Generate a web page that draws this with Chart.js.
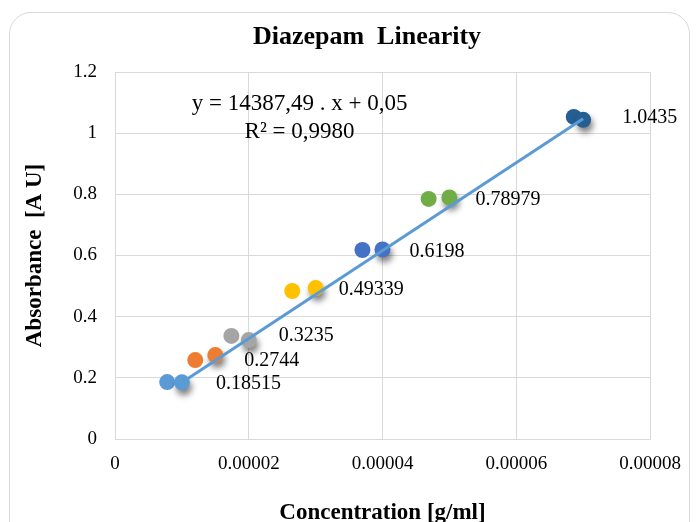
<!DOCTYPE html>
<html>
<head>
<meta charset="utf-8">
<script src="https://cdn.jsdelivr.net/npm/chart.js@4.4.1/dist/chart.umd.min.js"></script>
<style>
  html, body { margin: 0; padding: 0; background: #ffffff; }
  #wrap {
    position: relative; width: 697px; height: 522px; overflow: hidden;
  }
  #frame {
    position: absolute; left: 9px; top: 12px; width: 681px; height: 540px;
    border: 1px solid #d9d9d9; border-radius: 22px; box-sizing: border-box;
  }
  canvas { position: absolute; left: 0; top: 0; }
</style>
</head>
<body>
<div id="wrap">
  <div id="frame"></div>
  <canvas id="chart" width="697" height="522"></canvas>
</div>
<script>
// Series colours, low to high concentration
const seriesColors = ['#5B9BD5', '#ED7D31', '#A5A5A5', '#FFC000', '#4472C4', '#70AD47', '#255E91'];

// Measured points (x = concentration g/ml, y = absorbance)
const concX = [0.00001, 0.000015, 0.00002, 0.00003, 0.00004, 0.00005, 0.00007];
const absY = [0.18515, 0.2744, 0.3235, 0.49339, 0.6198, 0.78979, 1.0435];

// Companion (unshadowed) replicate points
const repX = [0.0000078, 0.000012, 0.0000174, 0.0000265, 0.000037, 0.0000469, 0.0000686];
const repY = [0.186, 0.258, 0.337, 0.484, 0.618, 0.785, 1.053];

// Data labels shown next to the measured points
const pointLabels = ['0.18515', '0.2744', '0.3235', '0.49339', '0.6198', '0.78979', '1.0435'];

// Trendline end points
const trendX = [0.00001, 0.00007];
const trendY = [0.185, 1.047];

const xTicks = [0, 0.00002, 0.00004, 0.00006, 0.00008];
const yTicks = [0, 0.2, 0.4, 0.6, 0.8, 1, 1.2];

const chartTitle = 'Diazepam  Linearity';
const equationLines = ['y = 14387,49 . x + 0,05', 'R² = 0,9980'];

// label nudges in px (dx, dy) from each measured point
const labelShift = [[34, 1], [29, 6], [30, -4], [23, 2], [27, 2], [26, 2], [39, -2]];

const SERIF = '"Liberation Serif", "Times New Roman", serif';

const datasets = [];

// trendline first so markers sit on top
datasets.push({
  type: 'line',
  label: 'trend',
  data: trendX.map((x, i) => ({ x, y: trendY[i] })),
  borderColor: '#5B9BD5',
  borderWidth: 3,
  pointRadius: 0,
  fill: false,
  order: 0,
});

seriesColors.forEach((c, i) => {
  datasets.push({
    label: 'rep' + i,
    data: [{ x: repX[i], y: repY[i] }],
    backgroundColor: c,
    borderColor: c,
    pointRadius: 8,
    pointBorderWidth: 0,
    order: 3,
  });
  datasets.push({
    label: 'meas' + i,
    data: [{ x: concX[i], y: absY[i] }],
    backgroundColor: c,
    borderColor: c,
    pointRadius: 8,
    pointBorderWidth: 0,
    shadow: true,
    labelIndex: i,
    order: 2,
  });
});

// Drop shadow for the measured markers
const shadowPlugin = {
  id: 'shadow',
  beforeDatasetDraw(chart, args) {
    const ds = chart.data.datasets[args.index];
    if (!ds.shadow) return;
    const ctx = chart.ctx;
    ctx.save();
    ctx.shadowColor = 'rgba(0,0,0,0.5)';
    ctx.shadowBlur = 6;
    ctx.shadowOffsetX = 2;
    ctx.shadowOffsetY = 5;
  },
  afterDatasetDraw(chart, args) {
    const ds = chart.data.datasets[args.index];
    if (!ds.shadow) return;
    chart.ctx.restore();
  },
};

// Title, data labels and trendline equation
const textPlugin = {
  id: 'texts',
  afterDatasetsDraw(chart) {
    const ctx = chart.ctx;
    ctx.save();
    ctx.fillStyle = '#000000';
    ctx.textBaseline = 'middle';

    ctx.font = 'bold 26px ' + SERIF;
    ctx.textAlign = 'center';
    ctx.fillText(chartTitle, 367, 37);

    ctx.font = '20px ' + SERIF;
    ctx.textAlign = 'left';
    chart.data.datasets.forEach((ds, di) => {
      if (ds.labelIndex === undefined) return;
      const pt = chart.getDatasetMeta(di).data[0];
      const s = labelShift[ds.labelIndex];
      ctx.fillText(pointLabels[ds.labelIndex], pt.x + s[0], pt.y + s[1]);
    });

    const xs = chart.scales.x;
    const ys = chart.scales.y;
    ctx.font = '23px ' + SERIF;
    ctx.textAlign = 'center';
    const ex = xs.getPixelForValue(0.0000276);
    const ey = ys.getPixelForValue(1.097);
    ctx.fillText(equationLines[0], ex, ey);
    ctx.fillText(equationLines[1], ex, ey + 28);
    ctx.restore();
  },
};

const gridColor = '#d9d9d9';

new Chart(document.getElementById('chart'), {
  type: 'scatter',
  data: { datasets },
  options: {
    responsive: false,
    animation: false,
    layout: { padding: { left: 17, right: 47, top: 72, bottom: 0 } },
    plugins: {
      legend: { display: false },
      tooltip: { enabled: false },
      title: { display: false },
    },
    scales: {
      x: {
        type: 'linear',
        min: 0,
        max: 0.00008,
        afterBuildTicks: (s) => { s.ticks = xTicks.map((v) => ({ value: v })); },
        afterFit: (s) => { s.height = 83; },
        grid: { color: gridColor, lineWidth: 1, drawTicks: false },
        border: { color: gridColor },
        ticks: {
          color: '#000000',
          padding: 14,
          font: { family: SERIF, size: 19 },
          callback: (v) => (v === 0 ? '0' : v.toFixed(5)),
        },
        title: {
          display: true,
          text: 'Concentration [g/ml]',
          color: '#000000',
          font: { family: SERIF, size: 23, weight: 'bold', lineHeight: 0.8 },
          padding: { top: 0, bottom: 0 },
        },
      },
      y: {
        min: 0,
        max: 1.2,
        afterBuildTicks: (s) => { s.ticks = yTicks.map((v) => ({ value: v })); },
        afterFit: (s) => { s.width = 98; },
        grid: { color: gridColor, lineWidth: 1, drawTicks: false },
        border: { color: gridColor },
        ticks: {
          color: '#000000',
          padding: 18,
          font: { family: SERIF, size: 19 },
          callback: (v) => String(Number(v.toFixed(1))),
        },
        title: {
          display: true,
          text: 'Absorbance  [A U]',
          color: '#000000',
          font: { family: SERIF, size: 23, weight: 'bold', lineHeight: 1.2 },
          padding: { top: 4, bottom: 4 },
        },
      },
    },
  },
  plugins: [shadowPlugin, textPlugin],
});
</script>
</body>
</html>
